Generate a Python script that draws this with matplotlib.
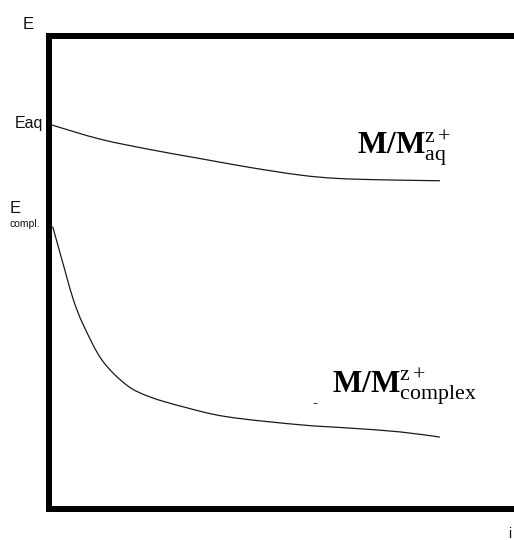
import matplotlib
matplotlib.use("Agg")
import matplotlib.pyplot as plt
from matplotlib.path import Path
from matplotlib.patches import PathPatch

plt.rcParams['mathtext.fontset'] = 'custom'
plt.rcParams['mathtext.rm'] = 'Liberation Serif'
plt.rcParams['mathtext.it'] = 'Liberation Serif:italic'
plt.rcParams['mathtext.bf'] = 'Liberation Serif:bold'

# Data: current i vs potential E
i_aq = [0.6, 10.8, 21.3, 31.8, 42.4, 52.9, 60.5, 69.7, 82.3]
E_aq = [81.2, 78.2, 76.0, 74.1, 72.2, 70.6, 69.9, 69.6, 69.4]

i_cx = [0.84, 3.4, 5.2, 7.3, 11.2, 16.4, 21.3, 28.3, 37.5, 52.9, 63.4, 73.9, 82.3]
E_cx = [59.7, 50.5, 44.2, 38.9, 31.5, 26.2, 23.7, 21.6, 19.5, 17.8, 17.1, 16.3, 15.2]


def smooth_path(xs, ys):
    """Catmull-Rom spline through the points, as a cubic Bezier path."""
    pts = list(zip(xs, ys))
    verts = [pts[0]]
    codes = [Path.MOVETO]
    n = len(pts)
    for k in range(n - 1):
        p0 = pts[k - 1] if k > 0 else pts[k]
        p1 = pts[k]
        p2 = pts[k + 1]
        p3 = pts[k + 2] if k + 2 < n else pts[k + 1]
        c1 = (p1[0] + (p2[0] - p0[0]) / 6, p1[1] + (p2[1] - p0[1]) / 6)
        c2 = (p2[0] - (p3[0] - p1[0]) / 6, p2[1] - (p3[1] - p1[1]) / 6)
        verts += [c1, c2, p2]
        codes += [Path.CURVE4] * 3
    return Path(verts, codes)


W, H = 514, 540
fig = plt.figure(figsize=(W / 100, H / 100), dpi=100)
ax = fig.add_axes([48.7 / W, 1 - 509 / H, (524 - 48.7) / W, (509 - 36) / H])
ax.set_xlim(0, 100)
ax.set_ylim(0, 100)
for s in ax.spines.values():
    s.set_linewidth(4.3)
    s.set_color('black')
    s.set_zorder(5)
ax.set_xticks([])
ax.set_yticks([])

for xs, ys in ((i_aq, E_aq), (i_cx, E_cx)):
    ax.add_patch(PathPatch(smooth_path(xs, ys), facecolor='none',
                           edgecolor='#1a1a1a', lw=0.9))


def fx(px):
    return px / W


def fy(py):
    return 1 - py / H


sans = 'Liberation Sans'
fig.text(fx(23), fy(29), 'E', fontsize=12, family=sans, color='#111111')
fig.text(fx(43), fy(128), 'Eaq', fontsize=11.5, family=sans, color='#111111', ha='right')
fig.text(fx(10), fy(213), 'E', fontsize=12, family=sans, color='#111111')
fig.text(fx(10), fy(227), 'compl.', fontsize=7.5, family=sans, color='#111111')
fig.text(fx(508), fy(538), 'i', fontsize=10, family=sans, color='#111111')

fig.text(fx(357), fy(154), r'$\mathbf{M/M}_{\mathrm{aq}}^{\mathrm{z+}}$', fontsize=22.5, color='black')
fig.text(fx(332), fy(394), r'$\mathbf{M/M}_{\mathrm{complex}}^{\mathrm{z+}}$', fontsize=22.5, color='black')
fig.text(fx(312), fy(407), '-', fontsize=11, family=sans, color='#333333')

fig.savefig('out.png', dpi=100)
